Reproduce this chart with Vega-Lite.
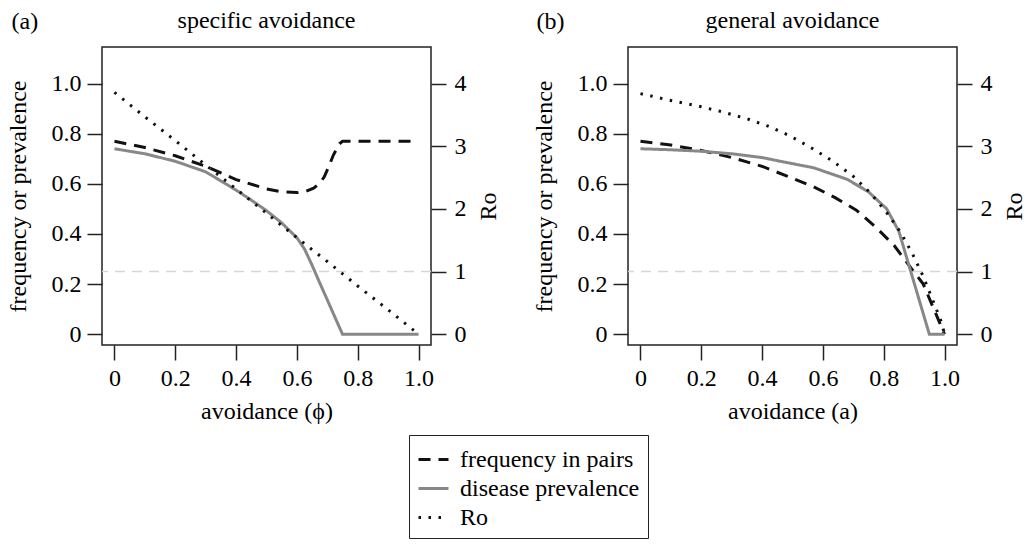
{
  "$schema": "https://vega.github.io/schema/vega-lite/v6.json",
  "padding": {"left": 5, "top": 8, "right": 0, "bottom": 0},
  "background": "white",
  "datasets": {
    "specific": [
      {"s": "frequency in pairs", "x": 0, "v": 0.77},
      {"s": "frequency in pairs", "x": 0.1, "v": 0.745},
      {"s": "frequency in pairs", "x": 0.2, "v": 0.712},
      {"s": "frequency in pairs", "x": 0.3, "v": 0.67},
      {"s": "frequency in pairs", "x": 0.4, "v": 0.617},
      {"s": "frequency in pairs", "x": 0.5, "v": 0.58},
      {"s": "frequency in pairs", "x": 0.55, "v": 0.568},
      {"s": "frequency in pairs", "x": 0.6, "v": 0.565},
      {"s": "frequency in pairs", "x": 0.63, "v": 0.57},
      {"s": "frequency in pairs", "x": 0.655, "v": 0.583},
      {"s": "frequency in pairs", "x": 0.675, "v": 0.602},
      {"s": "frequency in pairs", "x": 0.69, "v": 0.628},
      {"s": "frequency in pairs", "x": 0.705, "v": 0.67},
      {"s": "frequency in pairs", "x": 0.72, "v": 0.715},
      {"s": "frequency in pairs", "x": 0.74, "v": 0.76},
      {"s": "frequency in pairs", "x": 0.75, "v": 0.77},
      {"s": "frequency in pairs", "x": 0.85, "v": 0.77},
      {"s": "frequency in pairs", "x": 1.0, "v": 0.77},
      {"s": "disease prevalence", "x": 0, "v": 0.74},
      {"s": "disease prevalence", "x": 0.1, "v": 0.72},
      {"s": "disease prevalence", "x": 0.2, "v": 0.69},
      {"s": "disease prevalence", "x": 0.3, "v": 0.648},
      {"s": "disease prevalence", "x": 0.4, "v": 0.575},
      {"s": "disease prevalence", "x": 0.45, "v": 0.535},
      {"s": "disease prevalence", "x": 0.5, "v": 0.493},
      {"s": "disease prevalence", "x": 0.55, "v": 0.444},
      {"s": "disease prevalence", "x": 0.6, "v": 0.385},
      {"s": "disease prevalence", "x": 0.625, "v": 0.34},
      {"s": "disease prevalence", "x": 0.65, "v": 0.275},
      {"s": "disease prevalence", "x": 0.675, "v": 0.205},
      {"s": "disease prevalence", "x": 0.7, "v": 0.137},
      {"s": "disease prevalence", "x": 0.725, "v": 0.068},
      {"s": "disease prevalence", "x": 0.75, "v": 0.0},
      {"s": "disease prevalence", "x": 0.85, "v": 0.0},
      {"s": "disease prevalence", "x": 1.0, "v": 0.0},
      {"s": "Ro", "x": 0, "v": 3.86},
      {"s": "Ro", "x": 0.1, "v": 3.47},
      {"s": "Ro", "x": 0.2, "v": 3.09},
      {"s": "Ro", "x": 0.3, "v": 2.7},
      {"s": "Ro", "x": 0.4, "v": 2.32},
      {"s": "Ro", "x": 0.5, "v": 1.93},
      {"s": "Ro", "x": 0.6, "v": 1.54},
      {"s": "Ro", "x": 0.7, "v": 1.16},
      {"s": "Ro", "x": 0.8, "v": 0.77},
      {"s": "Ro", "x": 0.9, "v": 0.39},
      {"s": "Ro", "x": 1.0, "v": 0.0}
    ],
    "general": [
      {"s": "frequency in pairs", "x": 0, "v": 0.77},
      {"s": "frequency in pairs", "x": 0.1, "v": 0.755},
      {"s": "frequency in pairs", "x": 0.2, "v": 0.733},
      {"s": "frequency in pairs", "x": 0.3, "v": 0.705},
      {"s": "frequency in pairs", "x": 0.4, "v": 0.67},
      {"s": "frequency in pairs", "x": 0.48, "v": 0.632},
      {"s": "frequency in pairs", "x": 0.57, "v": 0.588},
      {"s": "frequency in pairs", "x": 0.64, "v": 0.545},
      {"s": "frequency in pairs", "x": 0.71, "v": 0.495},
      {"s": "frequency in pairs", "x": 0.775, "v": 0.426},
      {"s": "frequency in pairs", "x": 0.835, "v": 0.353},
      {"s": "frequency in pairs", "x": 0.88, "v": 0.28},
      {"s": "frequency in pairs", "x": 0.93, "v": 0.2},
      {"s": "frequency in pairs", "x": 0.965, "v": 0.1},
      {"s": "frequency in pairs", "x": 1.0, "v": 0.0},
      {"s": "disease prevalence", "x": 0, "v": 0.74},
      {"s": "disease prevalence", "x": 0.1, "v": 0.736},
      {"s": "disease prevalence", "x": 0.2, "v": 0.73},
      {"s": "disease prevalence", "x": 0.3, "v": 0.72},
      {"s": "disease prevalence", "x": 0.4, "v": 0.705},
      {"s": "disease prevalence", "x": 0.46, "v": 0.69},
      {"s": "disease prevalence", "x": 0.57, "v": 0.664},
      {"s": "disease prevalence", "x": 0.68, "v": 0.618},
      {"s": "disease prevalence", "x": 0.75, "v": 0.568},
      {"s": "disease prevalence", "x": 0.81, "v": 0.5},
      {"s": "disease prevalence", "x": 0.85, "v": 0.41},
      {"s": "disease prevalence", "x": 0.9, "v": 0.205},
      {"s": "disease prevalence", "x": 0.95, "v": 0.0},
      {"s": "disease prevalence", "x": 1.0, "v": 0.0},
      {"s": "Ro", "x": 0, "v": 3.84},
      {"s": "Ro", "x": 0.1, "v": 3.73},
      {"s": "Ro", "x": 0.2, "v": 3.63},
      {"s": "Ro", "x": 0.26, "v": 3.56},
      {"s": "Ro", "x": 0.35, "v": 3.44},
      {"s": "Ro", "x": 0.42, "v": 3.32},
      {"s": "Ro", "x": 0.49, "v": 3.17},
      {"s": "Ro", "x": 0.56, "v": 2.98},
      {"s": "Ro", "x": 0.63, "v": 2.77},
      {"s": "Ro", "x": 0.7, "v": 2.52},
      {"s": "Ro", "x": 0.755, "v": 2.26},
      {"s": "Ro", "x": 0.81, "v": 1.94},
      {"s": "Ro", "x": 0.855, "v": 1.63},
      {"s": "Ro", "x": 0.895, "v": 1.28},
      {"s": "Ro", "x": 0.93, "v": 0.92},
      {"s": "Ro", "x": 0.96, "v": 0.56},
      {"s": "Ro", "x": 0.99, "v": 0.19},
      {"s": "Ro", "x": 1.0, "v": 0.0}
    ]
  },
  "config": {
    "font": "Liberation Serif",
    "view": {"stroke": "#222", "strokeWidth": 1.5},
    "axis": {
      "labelFont": "Liberation Serif", "titleFont": "Liberation Serif",
      "labelFontSize": 24, "titleFontSize": 24,
      "labelColor": "black", "titleColor": "black", "titleFontWeight": "normal",
      "grid": false, "domain": false,
      "tickColor": "#222", "tickWidth": 1.5, "tickSize": 15
    },
    "title": {"font": "Liberation Serif", "fontSize": 24, "fontWeight": "normal", "color": "black"},
    "legend": {
      "labelFont": "Liberation Serif", "labelFontSize": 24, "labelColor": "black", "labelLimit": 0,
      "symbolType": "stroke", "symbolSize": 900, "symbolStrokeWidth": 3,
      "strokeColor": "#222", "padding": 8, "rowPadding": 0, "labelOffset": 10
    }
  },
  "spacing": 30,
  "hconcat": [
    {
      "width": 329, "height": 298,
      "title": {"text": "specific avoidance", "anchor": "middle", "frame": "group", "offset": -24},
      "layer": [
        {
          "layer": [
            {
              "data": {"name": "specific"},
              "transform": [{"filter": "datum.s != 'Ro'"}],
              "mark": {"type": "line", "strokeWidth": 3},
              "encoding": {
                "x": {"field": "x", "type": "quantitative", "scale": {"domain": [-0.041, 1.041], "nice": false, "zero": false},
                  "axis": {"orient": "bottom", "values": [0, 0.2, 0.4, 0.6, 0.8, 1.0], "labelExpr": "datum.value == 0 ? '0' : format(datum.value, '.1f')", "title": "avoidance (ϕ)", "labelPadding": 6, "titlePadding": 9}},
                "y": {"field": "v", "type": "quantitative", "scale": {"domain": [-0.043, 1.146], "nice": false, "zero": false},
                  "axis": {"orient": "left", "values": [0, 0.2, 0.4, 0.6, 0.8, 1.0], "labelExpr": "datum.value == 0 ? '0' : format(datum.value, '.1f')", "title": "frequency or prevalence", "labelPadding": 6, "titlePadding": 21}},
                "color": {"field": "s", "type": "nominal", "scale": {"domain": ["frequency in pairs", "disease prevalence", "Ro"], "range": ["#111111", "#888888", "#111111"]},
                  "legend": {"title": null, "orient": "none", "legendX": 307, "legendY": 388}},
                "strokeDash": {"field": "s", "type": "nominal", "scale": {"domain": ["frequency in pairs", "disease prevalence", "Ro"], "range": [[12, 8], [1, 0], [2.5, 7.5]]},
                  "legend": {"title": null, "orient": "none", "legendX": 307, "legendY": 388}}
              }
            },
            {
              "data": {"values": [{}]},
              "mark": {"type": "rule", "color": "#d6d6d6", "strokeDash": [10, 7], "strokeWidth": 1.5},
              "encoding": {"y": {"datum": 0.25, "type": "quantitative", "scale": {"domain": [-0.043, 1.146], "nice": false, "zero": false},
                "axis": {"orient": "left", "values": [0, 0.2, 0.4, 0.6, 0.8, 1.0], "labelExpr": "datum.value == 0 ? '0' : format(datum.value, '.1f')", "title": "frequency or prevalence", "labelPadding": 6, "titlePadding": 21}}}
            }
          ]
        },
        {
          "data": {"name": "specific"},
          "transform": [{"filter": "datum.s == 'Ro'"}],
          "mark": {"type": "line", "strokeWidth": 3},
          "encoding": {
            "x": {"field": "x", "type": "quantitative", "scale": {"domain": [-0.041, 1.041], "nice": false, "zero": false},
              "axis": {"orient": "top", "labels": false, "ticks": false, "title": "(a)", "titleX": -91, "titleY": -19, "titleAlign": "left", "titleBaseline": "alphabetic"}},
            "y": {"field": "v", "type": "quantitative", "scale": {"domain": [-0.172, 4.584], "nice": false, "zero": false},
              "axis": {"orient": "right", "values": [0, 1, 2, 3, 4], "title": "Ro", "titleAngle": 270, "titleBaseline": "top", "titleY": 159, "labelPadding": 8, "titlePadding": 10}},
            "color": {"field": "s", "type": "nominal"},
            "strokeDash": {"field": "s", "type": "nominal"}
          }
        }
      ],
      "resolve": {"scale": {"y": "independent"}, "axis": {"x": "independent", "y": "independent"}}
    },
    {
      "width": 329, "height": 298,
      "title": {"text": "general avoidance", "anchor": "middle", "frame": "group", "offset": -24},
      "layer": [
        {
          "layer": [
            {
              "data": {"name": "general"},
              "transform": [{"filter": "datum.s != 'Ro'"}],
              "mark": {"type": "line", "strokeWidth": 3},
              "encoding": {
                "x": {"field": "x", "type": "quantitative", "scale": {"domain": [-0.041, 1.041], "nice": false, "zero": false},
                  "axis": {"orient": "bottom", "values": [0, 0.2, 0.4, 0.6, 0.8, 1.0], "labelExpr": "datum.value == 0 ? '0' : format(datum.value, '.1f')", "title": "avoidance (a)", "labelPadding": 6, "titlePadding": 9}},
                "y": {"field": "v", "type": "quantitative", "scale": {"domain": [-0.043, 1.146], "nice": false, "zero": false},
                  "axis": {"orient": "left", "values": [0, 0.2, 0.4, 0.6, 0.8, 1.0], "labelExpr": "datum.value == 0 ? '0' : format(datum.value, '.1f')", "title": "frequency or prevalence", "labelPadding": 6, "titlePadding": 21}},
                "color": {"field": "s", "type": "nominal"},
                "strokeDash": {"field": "s", "type": "nominal"}
              }
            },
            {
              "data": {"values": [{}]},
              "mark": {"type": "rule", "color": "#d6d6d6", "strokeDash": [10, 7], "strokeWidth": 1.5},
              "encoding": {"y": {"datum": 0.25, "type": "quantitative", "scale": {"domain": [-0.043, 1.146], "nice": false, "zero": false},
                "axis": {"orient": "left", "values": [0, 0.2, 0.4, 0.6, 0.8, 1.0], "labelExpr": "datum.value == 0 ? '0' : format(datum.value, '.1f')", "title": "frequency or prevalence", "labelPadding": 6, "titlePadding": 21}}}
            }
          ]
        },
        {
          "data": {"name": "general"},
          "transform": [{"filter": "datum.s == 'Ro'"}],
          "mark": {"type": "line", "strokeWidth": 3},
          "encoding": {
            "x": {"field": "x", "type": "quantitative", "scale": {"domain": [-0.041, 1.041], "nice": false, "zero": false},
              "axis": {"orient": "top", "labels": false, "ticks": false, "title": "(b)", "titleX": -92, "titleY": -19, "titleAlign": "left", "titleBaseline": "alphabetic"}},
            "y": {"field": "v", "type": "quantitative", "scale": {"domain": [-0.172, 4.584], "nice": false, "zero": false},
              "axis": {"orient": "right", "values": [0, 1, 2, 3, 4], "title": "Ro", "titleAngle": 270, "titleBaseline": "top", "titleY": 159, "labelPadding": 8, "titlePadding": 10}},
            "color": {"field": "s", "type": "nominal"},
            "strokeDash": {"field": "s", "type": "nominal"}
          }
        }
      ],
      "resolve": {"scale": {"y": "independent"}, "axis": {"x": "independent", "y": "independent"}}
    }
  ]
}
